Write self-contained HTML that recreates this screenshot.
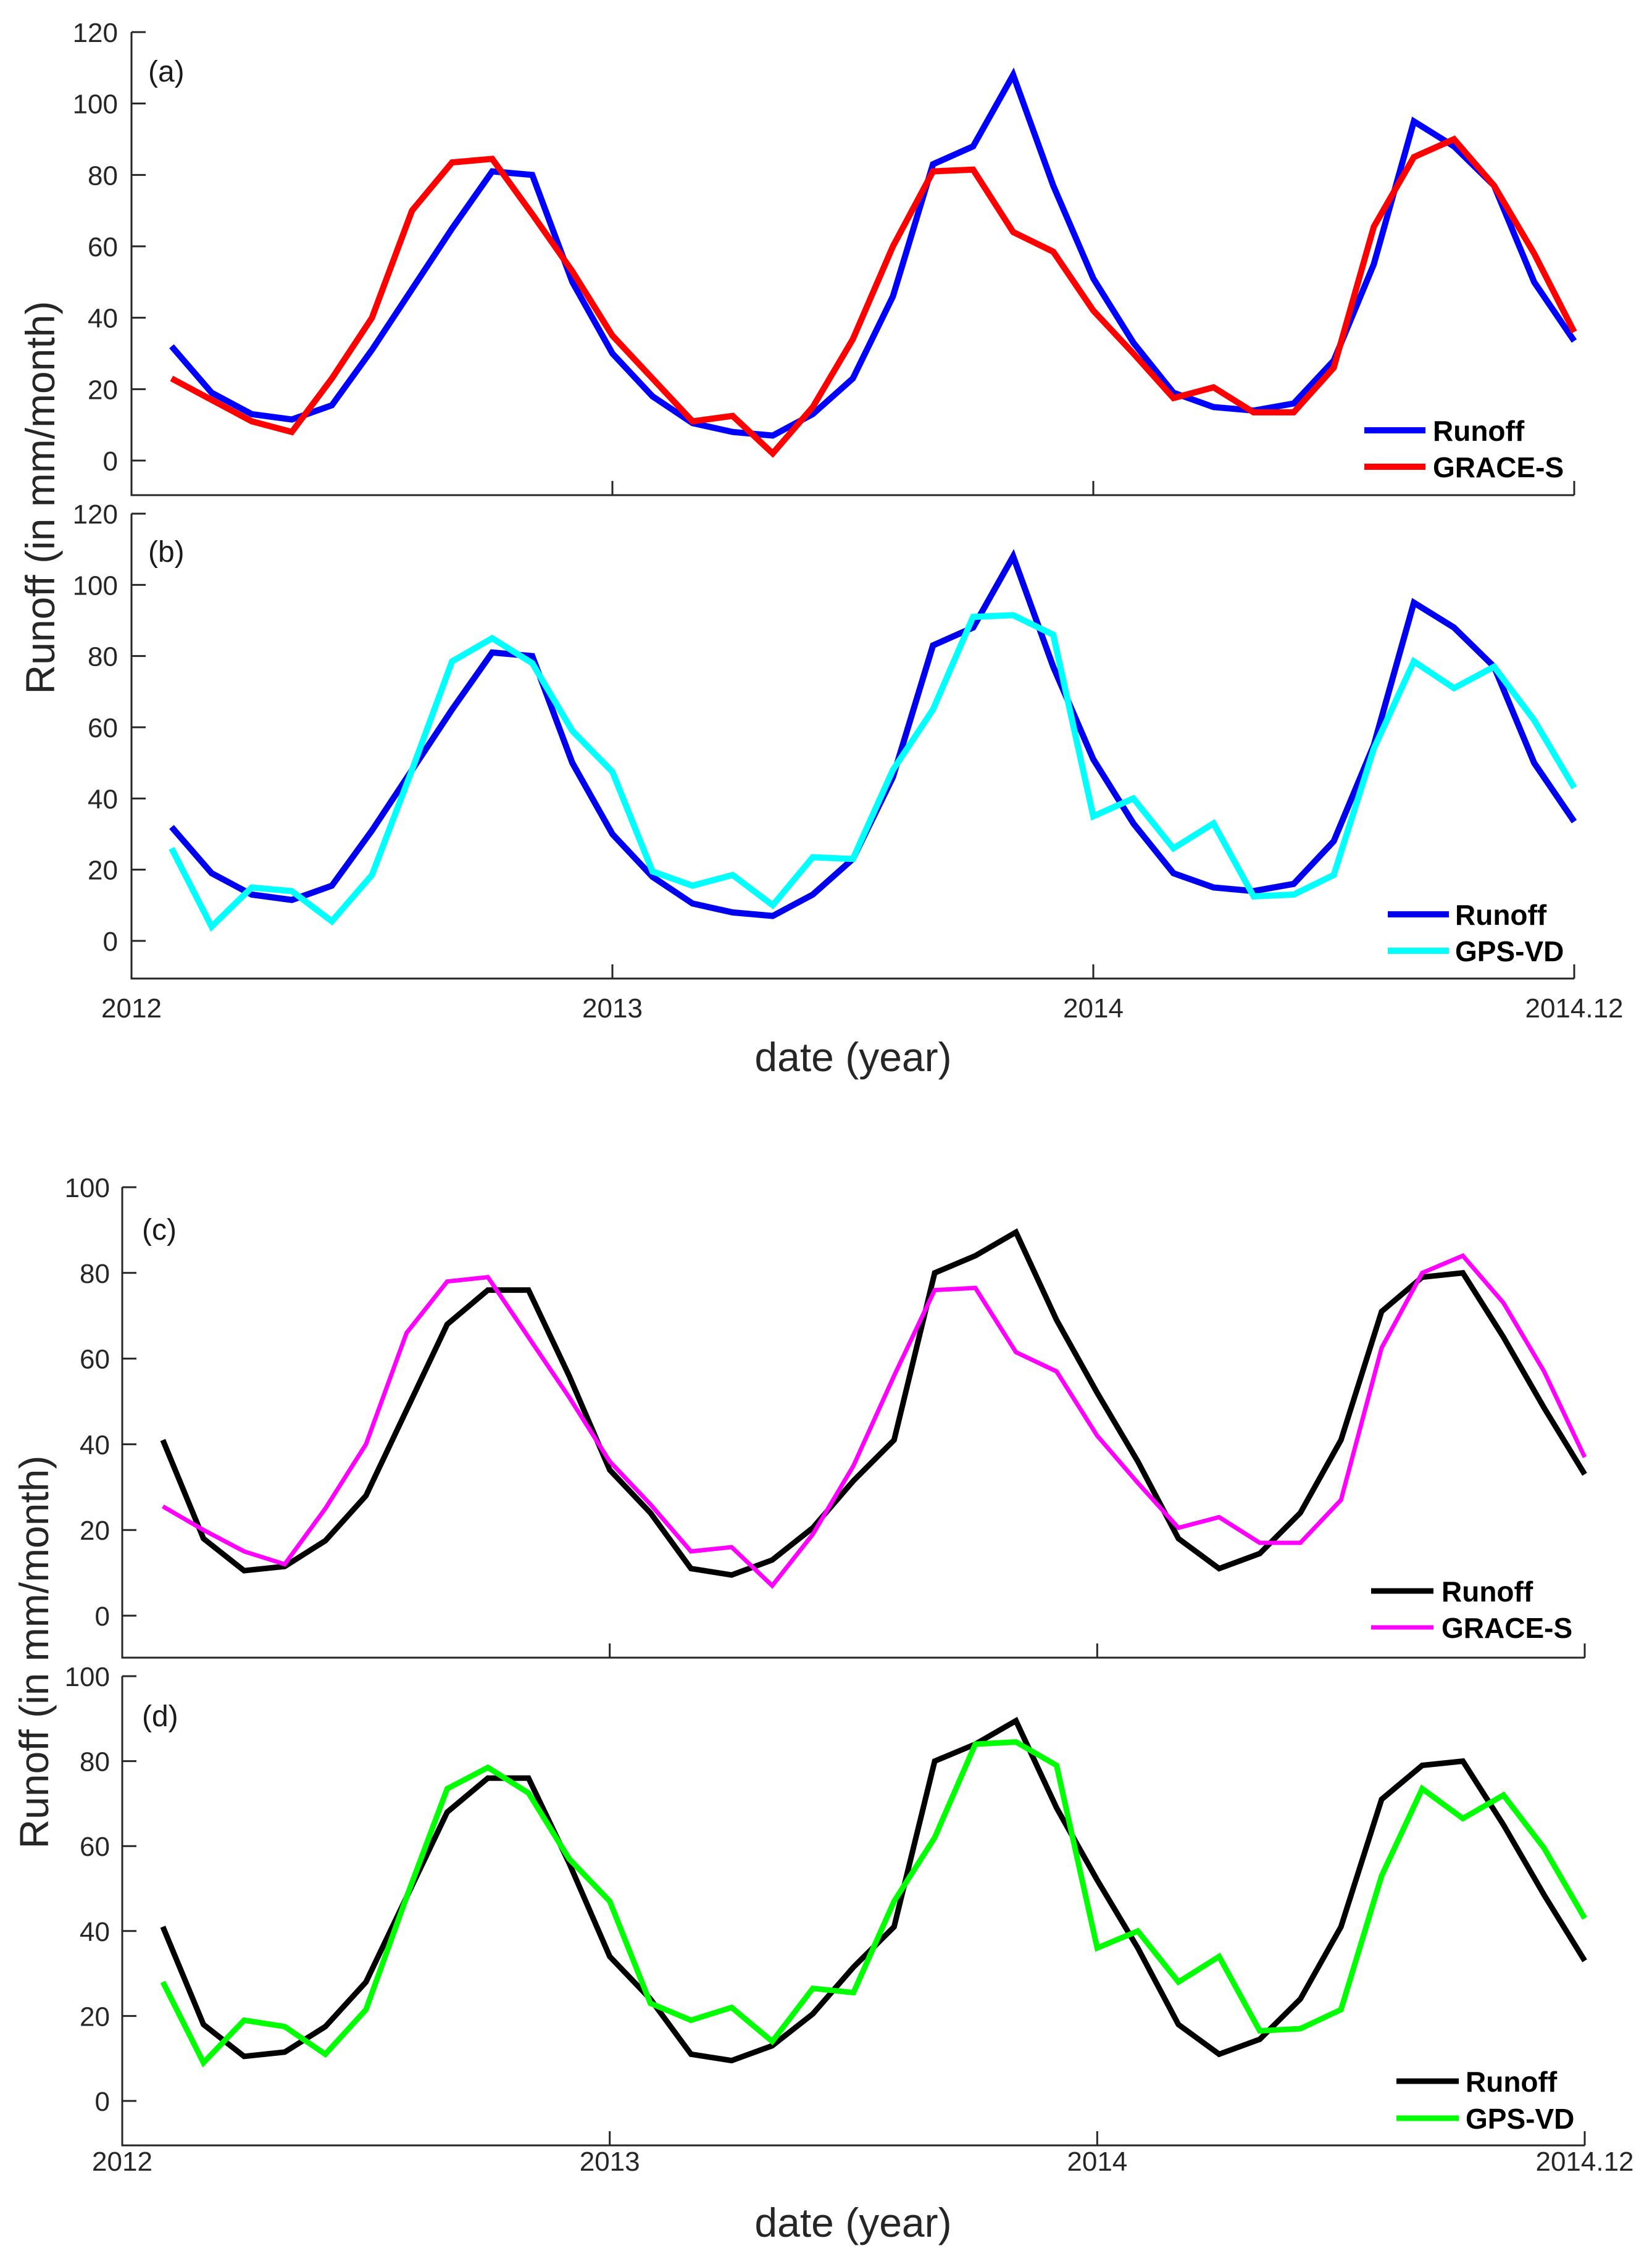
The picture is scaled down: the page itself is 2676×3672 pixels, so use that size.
<!DOCTYPE html>
<html><head><meta charset="utf-8"><style>
html,body{margin:0;padding:0;background:#fff}
svg{display:block}
text{font-family:"Liberation Sans",sans-serif}
</style></head><body>
<svg id="chart" width="2676" height="3672" viewBox="0 0 2676 3672" xmlns="http://www.w3.org/2000/svg">
<rect width="2676" height="3672" fill="#fff"/>
<text transform="translate(88,806) rotate(-90)" text-anchor="middle" font-size="66" fill="#262626">Runoff (in mm/month)</text>
<text x="1382" y="1735" text-anchor="middle" font-size="66" fill="#262626">date (year)</text>
<text transform="translate(78,2676) rotate(-90)" text-anchor="middle" font-size="66" fill="#262626">Runoff (in mm/month)</text>
<text x="1382" y="3623" text-anchor="middle" font-size="66" fill="#262626">date (year)</text>
</svg>
<script>
const months = [1,2,3,4,5,6,7,8,9,10,11,12,13,14,15,16,17,18,19,20,21,22,23,24,25,26,27,28,29,30,31,32,33,34,35,36];
const xTickLabels = ["2012","2013","2014","2014.12"];
const xTickMonths = [0,12,24,36];
const yTicksAB = [0,20,40,60,80,100,120];
const yTicksCD = [0,20,40,60,80,100];
const runoffAB = [32,19,13,11.5,15.5,31,48,65,81,80,50,30,18,10.5,8,7,13,23,46,83,88,108,77,51,33,19,15,14,16,28,55,95,88,77,50,33.5];
const graceA = [23,17,11,8,23,40,70,83.5,84.5,69,53,35,23,11,12.5,2,15,34,60,81,81.5,64,58.5,42,30,17.5,20.5,13.5,13.5,26,65.5,85,90,77,58,36];
const gpsB = [26,4,15,14,5.5,18.5,48,78.5,85,78,59,47.5,19.5,15.5,18.5,10,23.5,23,48,65,91,91.5,86,35,40,26,33,12.5,13,18.5,54,78.5,71,77,62,43];
const runoffCD = [41,18,10.5,11.5,17.5,28,48,68,76,76,56,34,24,11,9.5,13,20.5,31.5,41,80,84,89.5,69,52,36,18,11,14.5,24,41,71,79,80,65,48.5,33];
const graceC = [25.5,20,15,12,25,40,66,78,79,65,51,36,26,15,16,7,19,35,56,76,76.5,61.5,57,42,31,20.5,23,17,17,27,62.5,80,84,73,57,37];
const gpsD = [28,9,19,17.5,11,21.5,48,73.5,78.5,72.5,57,47,23,19,22,14,26.5,25.5,47,62,84,84.5,79,36,40,28,34,16.5,17,21.5,53,73.5,66.5,72,59.5,43];

const NS="http://www.w3.org/2000/svg";
const svg=document.getElementById('chart');
function mk(tag,attrs,parent){const e=document.createElementNS(NS,tag);for(const k in attrs)e.setAttribute(k,attrs[k]);(parent||svg).appendChild(e);return e;}

const panels=[
 {id:'a',left:213,right:2550,top:52,zero:746,topVal:120,bottom:802,ticks:yTicksAB,labX:191,tag:'(a)',tagX:240,tagY:132,xlabels:false,
  series:[{name:'Runoff',data:runoffAB,color:'#0000ff',w:10},{name:'GRACE-S',data:graceA,color:'#ff0000',w:10}],
  leg:{x1:2210,x2:2309,tx:2321,y:697,dy:59}},
 {id:'b',left:213,right:2550,top:832,zero:1524,topVal:120,bottom:1585,ticks:yTicksAB,labX:191,tag:'(b)',tagX:240,tagY:910,xlabels:true,xlabY:1648,
  series:[{name:'Runoff',data:runoffAB,color:'#0000ee',w:10},{name:'GPS-VD',data:gpsB,color:'#00ffff',w:10}],
  leg:{x1:2248,x2:2347,tx:2357,y:1481,dy:59}},
 {id:'c',left:198,right:2567,top:1923,zero:2617,topVal:100,bottom:2685,ticks:yTicksCD,labX:178,tag:'(c)',tagX:230,tagY:2008,xlabels:false,
  series:[{name:'Runoff',data:runoffCD,color:'#000000',w:9},{name:'GRACE-S',data:graceC,color:'#ff00ff',w:7}],
  leg:{x1:2221,x2:2322,tx:2335,y:2577,dy:59}},
 {id:'d',left:198,right:2567,top:2715,zero:3403,topVal:100,bottom:3475,ticks:yTicksCD,labX:178,tag:'(d)',tagX:230,tagY:2796,xlabels:true,xlabY:3516,
  series:[{name:'Runoff',data:runoffCD,color:'#000000',w:9},{name:'GPS-VD',data:gpsD,color:'#00ff00',w:9}],
  leg:{x1:2262,x2:2363,tx:2374,y:3371,dy:60}}
];

panels.forEach(p=>{
  const g=mk('g',{});
  
  
  const xs=m=>p.left+m*(p.right-p.left)/36;
  const ys=v=>p.zero-v*(p.zero-p.top)/p.topVal;
  const ax=mk('path',{d:`M${p.left},${p.top} V${p.bottom} H${p.right}`,fill:'none',stroke:'#262626','stroke-width':3},g);
  
  
  p.ticks.forEach(t=>{
    const y=ys(t);
    mk('line',{x1:p.left,x2:p.left+23,y1:y,y2:y,stroke:'#262626','stroke-width':3},g);
    const tl=mk('text',{x:p.labX,y:y+16,'text-anchor':'end','font-size':44,fill:'#262626'},g);
    
    
    tl.textContent=t;
  });
  xTickMonths.forEach((m,i)=>{
    const x=xs(m);
    mk('line',{x1:x,x2:x,y1:p.bottom,y2:p.bottom-23,stroke:'#262626','stroke-width':3},g);
    if(p.xlabels){
      const tl=mk('text',{x:x,y:p.xlabY,'text-anchor':'middle','font-size':44,fill:'#262626'},g);
      
      
      tl.textContent=xTickLabels[i];
    }
  });
  const tg=mk('text',{x:p.tagX,y:p.tagY,'font-size':48,fill:'#1a1a1a'},g);
  
  
  tg.textContent=p.tag;
  p.series.forEach((s,k)=>{
    const d=s.data.map((v,i)=>(i?'L':'M')+xs(months[i]).toFixed(1)+','+ys(v).toFixed(1)).join(' ');
    const pl=mk('path',{d:d,fill:'none',stroke:s.color,'stroke-width':s.w,'stroke-linejoin':'miter'},g);
    
    
    const ly=p.leg.y+k*p.leg.dy;
    const ll=mk('line',{x1:p.leg.x1,x2:p.leg.x2,y1:ly,y2:ly,stroke:s.color,'stroke-width':s.w},g);
    
    
    const lt=mk('text',{x:p.leg.tx,y:ly+17,'font-size':46,'font-weight':'bold',fill:'#000'},g);
    
    
    lt.textContent=s.name;
  });
});
</script>
</body></html>
